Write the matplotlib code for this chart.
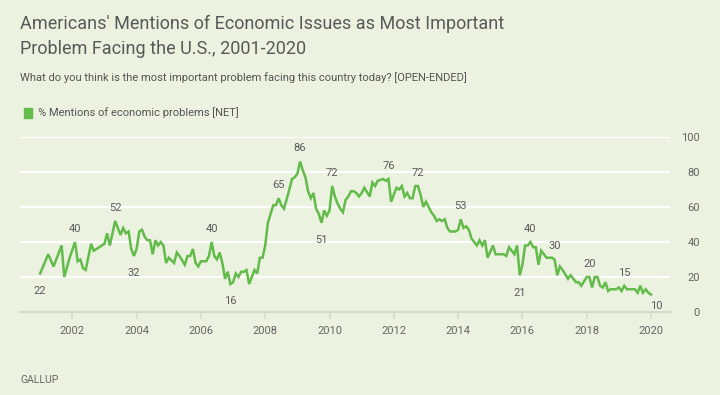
import numpy as np
import pandas as pd
import matplotlib
matplotlib.use("Agg")
import matplotlib.pyplot as plt
from matplotlib.patches import Patch

plt.rcParams['font.family'] = ['Roboto', 'DejaVu Sans']

# monthly readings (YYYY-MM, % mentioning economic problems)
months = [
    "2001-01", "2001-04", "2001-06", "2001-09", "2001-10", "2001-12",
    "2002-02", "2002-03", "2002-04", "2002-05", "2002-06", "2002-08", "2002-09", "2002-11",
    "2003-01", "2003-02", "2003-03", "2003-05", "2003-07", "2003-08", "2003-09", "2003-10", "2003-11", "2003-12",
    "2004-01", "2004-02", "2004-03", "2004-04", "2004-05", "2004-06", "2004-07", "2004-08", "2004-09", "2004-10", "2004-11", "2004-12",
    "2005-01", "2005-03", "2005-04", "2005-05", "2005-07", "2005-08", "2005-09", "2005-10", "2005-11", "2005-12",
    "2006-01", "2006-03", "2006-04", "2006-05", "2006-06", "2006-07", "2006-08", "2006-09", "2006-10", "2006-11", "2006-12",
    "2007-01", "2007-02", "2007-03", "2007-04", "2007-05", "2007-06", "2007-07", "2007-09", "2007-10", "2007-11", "2007-12",
    "2008-01", "2008-02", "2008-04", "2008-05", "2008-06", "2008-07", "2008-08", "2008-10", "2008-11", "2008-12",
    "2009-01", "2009-02", "2009-03", "2009-04", "2009-05", "2009-06", "2009-07", "2009-08", "2009-09", "2009-10", "2009-11", "2009-12",
    "2010-01", "2010-02", "2010-03", "2010-04", "2010-05", "2010-06", "2010-07", "2010-08", "2010-09", "2010-10", "2010-11", "2010-12",
    "2011-01", "2011-02", "2011-04", "2011-05", "2011-06", "2011-07", "2011-09", "2011-10", "2011-11", "2011-12",
    "2012-01", "2012-02", "2012-03", "2012-04", "2012-05", "2012-06", "2012-07", "2012-08", "2012-09", "2012-10", "2012-11", "2012-12",
    "2013-01", "2013-02", "2013-03", "2013-04", "2013-05", "2013-06", "2013-07", "2013-08", "2013-09", "2013-10", "2013-12",
    "2014-01", "2014-02", "2014-03", "2014-04", "2014-05", "2014-06", "2014-08", "2014-09", "2014-10", "2014-11", "2014-12",
    "2015-02", "2015-03", "2015-05", "2015-06", "2015-07", "2015-08", "2015-09", "2015-10", "2015-11", "2015-12",
    "2016-01", "2016-02", "2016-03", "2016-04", "2016-05", "2016-06", "2016-07", "2016-08", "2016-09", "2016-10", "2016-12",
    "2017-01", "2017-02", "2017-03", "2017-04", "2017-06", "2017-07", "2017-08", "2017-09", "2017-10", "2017-11",
    "2018-01", "2018-02", "2018-03", "2018-04", "2018-05", "2018-06", "2018-07", "2018-08", "2018-09", "2018-10", "2018-12",
    "2019-01", "2019-02", "2019-03", "2019-04", "2019-05", "2019-06", "2019-07", "2019-08", "2019-09", "2019-10", "2019-11", "2019-12",
    "2020-01",
]
values = [
    22, 33, 26, 38, 20, 31,
    40, 29, 30, 25, 24, 39, 35, 37,
    39, 45, 38, 52, 44, 48, 45, 46, 36, 32,
    36, 46, 47, 43, 41, 41, 33, 41, 38, 40, 38, 28,
    31, 28, 34, 32, 27, 32, 32, 36, 28, 26,
    29, 29, 32, 40, 32, 30, 34, 28, 19, 23, 16,
    17, 22, 20, 23, 23, 24, 16, 24, 22, 31, 31,
    38, 51, 61, 61, 65, 61, 59, 70, 76, 77,
    79, 86, 81, 77, 69, 65, 68, 59, 56, 51, 58, 55,
    58, 72, 66, 62, 59, 57, 64, 66, 69, 69, 68, 66,
    68, 71, 66, 74, 72, 75, 76, 75, 76, 63,
    67, 71, 70, 72, 66, 68, 65, 65, 72, 72, 67, 60,
    63, 60, 57, 55, 52, 53, 52, 53, 48, 46, 46,
    47, 53, 48, 49, 47, 42, 38, 41, 38, 41, 31,
    38, 33, 33, 33, 32, 37, 35, 33, 38, 21,
    27, 38, 38, 40, 37, 37, 27, 35, 33, 31, 31,
    30, 21, 26, 24, 19, 21, 19, 17, 17, 15,
    20, 20, 14, 20, 20, 15, 14, 17, 12, 13, 13,
    14, 12, 15, 13, 13, 13, 13, 11, 15, 11, 13, 11,
    10,
]

# data labels shown on the chart
label_months = ["2001-01", "2002-02", "2003-05", "2003-12", "2006-05", "2006-12",
                "2008-06", "2009-02", "2009-10", "2010-02", "2011-11", "2012-10",
                "2014-02", "2015-12", "2016-04", "2017-01", "2018-02", "2019-03", "2020-01"]
label_side = ["below", "above", "above", "below", "above", "below",
              "above", "above", "below", "above", "above", "above",
              "above", "below", "above", "above", "above", "above", "below"]

year_ticks = list(range(2002, 2021, 2))
y_ticks = [0, 20, 40, 60, 80, 100]

bg = '#ebf2df'
green = '#62bb4a'
grey_text = '#5a5a5a'


def to_year(s):
    d = pd.to_datetime(s)
    return d.year + (d.month - 1) / 12


x = np.array([to_year(m) for m in months])
y = np.array(values)
lookup = dict(zip(months, values))

fig = plt.figure(figsize=(7.2, 3.95), dpi=100, facecolor=bg)
ax = fig.add_axes([20 / 720, 1 - 312 / 395, 650 / 720, 175 / 395])
ax.set_facecolor(bg)

for v in y_ticks[1:]:
    ax.axhline(v, color='white', lw=1.6, zorder=1)

ax.plot(x, y, color=green, lw=1.8, zorder=3, solid_joinstyle='miter')

for m, side in zip(label_months, label_side):
    v = lookup[m]
    if m == "2020-01":
        dx, dy = 4, -8.5
    else:
        dx, dy = 0, (9.5 if side == "above" else -12.5)
    ax.annotate(str(v), (to_year(m), v), xytext=(dx, dy), textcoords='offset points',
                ha='center', va='center', fontsize=8, color=grey_text, zorder=4)

ax.set_xlim(2000.373, 2020.59)
ax.set_ylim(0, 100)
ax.set_xticks(year_ticks)
ax.set_xticklabels([str(t) for t in year_ticks])
ax.set_yticks(y_ticks)
ax.yaxis.tick_right()
ax.tick_params(axis='y', length=0, pad=21.6, labelsize=8, labelcolor='#666666')
for lab in ax.get_yticklabels():
    lab.set_horizontalalignment('right')
ax.tick_params(axis='x', length=5, width=1.2, color='#d6dccb', pad=5,
               labelsize=8, labelcolor='#666666')

for s in ['top', 'left', 'right']:
    ax.spines[s].set_visible(False)
ax.spines['bottom'].set_color('#d6dccb')
ax.spines['bottom'].set_linewidth(1.6)

fig.text(20 / 720, 1 - 36 / 395,
         "Americans' Mentions of Economic Issues as Most Important\nProblem Facing the U.S., 2001-2020",
         fontsize=13, color='#595959', ha='left', va='center', linespacing=1.5)
fig.text(20 / 720, 1 - 78 / 395,
         "What do you think is the most important problem facing this country today? [OPEN-ENDED]",
         fontsize=8, color='#555555', ha='left', va='center')

fig.legend(handles=[Patch(color=green, label='% Mentions of economic problems [NET]')],
           loc='center left', bbox_to_anchor=(14 / 720, 1 - 113 / 395), frameon=False,
           handlelength=0.7, handleheight=1.0, handletextpad=0.6, fontsize=8,
           labelcolor='#555555')

fig.text(20 / 720, 1 - 380 / 395, "GALLUP", fontsize=7.5, color='#666666',
         ha='left', va='center')

fig.savefig('out.png', dpi=100, facecolor=bg)
